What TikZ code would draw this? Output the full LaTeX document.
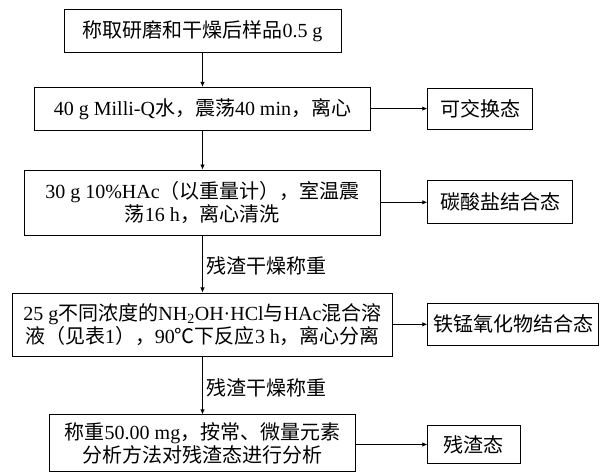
\documentclass[tikz,border=0pt]{standalone}
\usepackage{fontspec}
\setmainfont{Liberation Serif}
\newfontfamily\cjk{Noto Sans CJK SC}
\newcommand\zh[1]{{\cjk #1}}
\usetikzlibrary{arrows.meta}
\begin{document}
\begin{tikzpicture}[x=1pt,y=-1pt,
  box/.style={draw,line width=0.9pt,inner sep=0pt,align=center,font=\fontsize{20}{23}\selectfont},
  lbl/.style={inner sep=0pt,anchor=west,font=\fontsize{20}{23}\selectfont},
  arr/.style={line width=0.8pt,-{Latex[length=5pt,width=4.5pt]}}]
\useasboundingbox (0,0) rectangle (600,473);
\node[box,minimum width=277pt,minimum height=43.5pt] (b1) at (202.5,31) {\zh{称取研磨和干燥后样品}0.5 g};
\node[box,minimum width=336.5pt,minimum height=43.5pt] (b2) at (202.5,109) {40 g Milli-Q\zh{水，震荡}40 min\zh{，离心}};
\node[box,minimum width=356.5pt,minimum height=65pt] (b3) at (202.5,202.5) {30 g 10\%HAc\zh{（以重量计），室温震}\\\zh{荡}16 h\zh{，离心清洗}};
\node[box,minimum width=379.3pt,minimum height=63.3pt] (b4) at (202.5,324.6) {25 g\zh{不同浓度的}NH\textsubscript{2}OH·HCl\zh{与}HAc\zh{混合溶}\\\zh{液（见表}1\zh{），}90\zh{℃下反应}3 h\zh{，离心分离}};
\node[box,minimum width=306pt,minimum height=57pt] (b5) at (202.5,443.3) {\zh{称重}50.00 mg\zh{，按常、微量元素}\\\zh{分析方法对残渣态进行分析}};
\node[box,minimum width=105pt,minimum height=41pt] (r1) at (480.2,108.6) {\zh{可交换态}};
\node[box,minimum width=145pt,minimum height=43pt] (r2) at (500.2,202.3) {\zh{碳酸盐结合态}};
\node[box,minimum width=170.6pt,minimum height=41.6pt] (r3) at (513,324.3) {\zh{铁锰氧化物结合态}};
\node[box,minimum width=92.3pt,minimum height=37.3pt] (r4) at (473.9,444.5) {\zh{残渣态}};
\node[lbl] (l1) at (206,266) {\zh{残渣干燥称重}};
\node[lbl] (l2) at (206,388) {\zh{残渣干燥称重}};
\draw[arr] (b1) -- (b2);
\draw[arr] (b2) -- (b3);
\draw[arr] (b3) -- (b4);
\draw[arr] (b4) -- (b5);
\draw[arr] (b2.east |- r1.west) -- (r1.west);
\draw[arr] (b3.east |- r2.west) -- (r2.west);
\draw[arr] (b4.east |- r3.west) -- (r3.west);
\draw[arr] (b5.east |- r4.west) -- (r4.west);
\end{tikzpicture}
\end{document}
